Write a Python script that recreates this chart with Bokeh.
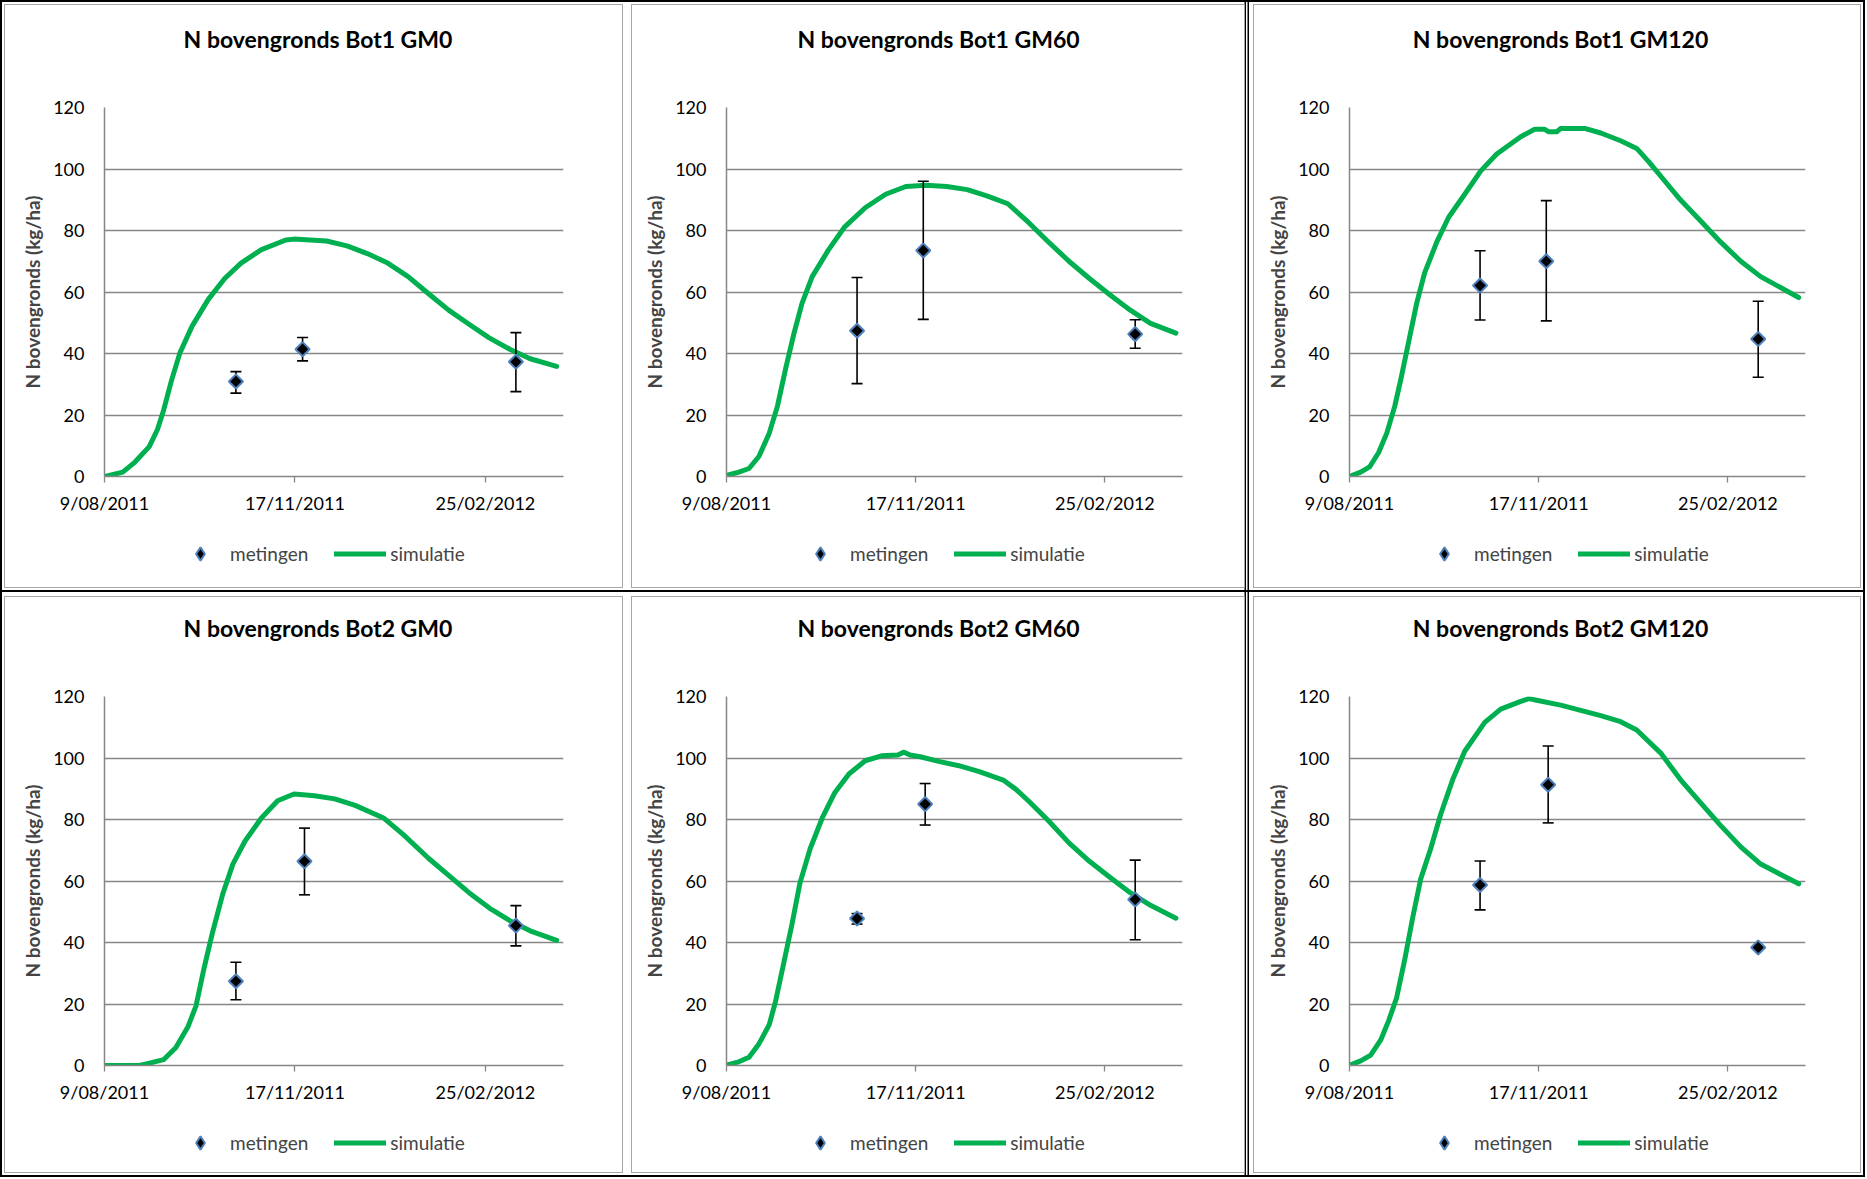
import pandas as pd
from bokeh.plotting import figure
from bokeh.layouts import column, row
from bokeh.models import (FixedTicker, Range1d, Legend, LegendItem, ColumnDataSource, Label)
from bokeh.embed import file_html
from bokeh.resources import INLINE

# ---------------- data ----------------
START_DATE = "2011-08-09"
x_tick_days = [0, 100, 200]
x_tick_labels = ["9/08/2011", "17/11/2011", "25/02/2012"]
y_ticks = [0, 20, 40, 60, 80, 100, 120]

titles = ["N bovengronds Bot1 GM0", "N bovengronds Bot1 GM60", "N bovengronds Bot1 GM120",
          "N bovengronds Bot2 GM0", "N bovengronds Bot2 GM60", "N bovengronds Bot2 GM120"]
y_label = "N bovengronds (kg/ha)"
series_names = ["metingen", "simulatie"]

meas_dates_bot1 = ["2011-10-17", "2011-11-21", "2012-03-12"]
meas_dates_bot2 = ["2011-10-17", "2011-11-22", "2012-03-12"]

# simulation: days after 9/08/2011 and N (kg/ha)
b1g0_sim_day = [0.3, 9.6, 16, 23.5, 27.8, 31, 35.3, 39.6, 46, 54.5, 63.1, 71.7, 82.4, 95.2, 99.5,
                116.6, 127.3, 138, 148.7, 159.4, 170, 180.7, 191.4, 202, 212.8, 223.5, 237.4]
b1g0_sim_val = [0, 1.4, 4.7, 9.7, 15.3, 21.5, 31.5, 40.2, 48.9, 57.6, 64.4, 69.4, 73.8, 76.9, 77.2,
                76.6, 75.0, 72.5, 69.4, 65.0, 59.5, 54.1, 49.5, 45.1, 41.4, 38.3, 35.8]
b1g0_meas = [30.9, 41.4, 37.3]
b1g0_lo = [27.1, 37.6, 27.6]
b1g0_hi = [34.1, 45.2, 46.8]

b1g60_sim_day = [0.4, 6.5, 11.9, 17.2, 22.6, 26.9, 31.3, 35.6, 39.9, 45.3, 53.9, 62.5, 73.3, 84.1,
                 94.8, 105.6, 116.4, 127.2, 138, 148.7, 159.5, 170.3, 181, 191.8, 202.6, 213.4, 224.1, 237.5]
b1g60_sim_val = [0.4, 1.4, 2.6, 6.6, 14.1, 22.8, 35.2, 46.4, 56.3, 65.0, 73.7, 81.2, 87.4, 91.8,
                 94.3, 94.7, 94.3, 93.3, 91.2, 88.7, 82.7, 76.2, 70.0, 64.4, 59.1, 54.1, 49.8, 46.6]
b1g60_meas = [47.4, 73.5, 46.3]
b1g60_lo = [30.2, 51.1, 41.7]
b1g60_hi = [64.7, 96.0, 51.0]

b1g120_sim_day = [0, 5.9, 10.6, 15.4, 19.7, 23.9, 27.1, 31.3, 35.5, 39.7, 46.1, 52.4, 60.9, 69.3,
                  77.8, 90.5, 97.9, 103.2, 105.3, 109.5, 111.6, 124.3, 132.8, 143.3, 151.8, 158.1,
                  166.6, 175, 185.6, 196.2, 206.8, 217.3, 237.4]
b1g120_sim_val = [0, 1.4, 3.1, 7.8, 14.1, 22.8, 31.5, 43.9, 56.3, 66.2, 76.2, 84.3, 91.8, 99.3,
                  104.9, 110.5, 112.9, 112.9, 112.1, 112.1, 113.2, 113.2, 111.7, 109.2, 106.7, 102.4,
                  96.1, 89.9, 83.1, 76.2, 70.0, 65.0, 58.2]
b1g120_meas = [62.1, 70.0, 44.7]
b1g120_lo = [50.9, 50.6, 32.3]
b1g120_hi = [73.4, 89.7, 57.0]

b2g0_sim_day = [0, 18.2, 22.5, 31, 37.4, 43.9, 48.1, 52.4, 56.7, 62, 67.4, 73.8, 82.4, 90.9, 99.5,
                110.2, 120.9, 131.6, 146.5, 157.2, 170.1, 180.7, 191.4, 202.1, 212.8, 223.5, 237.4]
b2g0_sim_val = [0, 0, 0.6, 1.9, 5.8, 12.7, 19.5, 32, 43.2, 55.6, 65.5, 73, 80.5, 86.1, 88.3,
                87.7, 86.7, 84.6, 80.5, 74.9, 67.4, 61.8, 56.2, 51.2, 47.1, 43.8, 40.7]
b2g0_meas = [27.4, 66.4, 45.5]
b2g0_lo = [21.4, 55.5, 38.9]
b2g0_hi = [33.6, 77.2, 52.0]

b2g60_sim_day = [0.4, 6.5, 11.9, 17.2, 22.6, 25.9, 30.2, 34.5, 38.8, 44.2, 50.6, 57.1, 64.7, 73.3,
                 81.9, 90.5, 93.8, 97, 102.4, 112.1, 122.8, 133.6, 146.6, 153, 159.5, 170.3, 181,
                 191.8, 202.6, 213.4, 224.1, 237.5]
b2g60_sim_val = [0.2, 1.2, 2.7, 7.1, 13.3, 20.8, 33.2, 45.6, 59.3, 70.5, 80.5, 88.6, 94.8, 99.1,
                 100.7, 101.0, 101.9, 101.0, 100.4, 98.9, 97.5, 95.6, 92.7, 89.8, 86.1, 79.5, 72.4,
                 66.4, 61.2, 56.2, 52.1, 47.9]
b2g60_meas = [47.8, 85.0, 54.0]
b2g60_lo = [46.0, 78.2, 40.9]
b2g60_hi = [49.4, 91.7, 66.8]

b2g120_sim_day = [0.6, 5.9, 11.2, 16.5, 20.7, 24.9, 29.2, 33.4, 37.6, 42.9, 48.2, 54.5, 60.9, 71.5,
                  79.9, 90.5, 94.7, 98.9, 111.6, 122.2, 132.8, 143.3, 151.8, 164.5, 175, 185.6,
                  196.2, 206.8, 217.3, 237.4]
b2g120_sim_val = [0.2, 1.5, 3.4, 8.3, 14.6, 22, 34.5, 48.1, 60.6, 70.5, 81.7, 92.9, 102.2, 111.6,
                  115.9, 118.4, 119.3, 118.8, 117.2, 115.5, 113.8, 111.8, 109.1, 101.6, 92.9, 85.4,
                  78, 71.1, 65.5, 59.1]
b2g120_meas = [58.7, 91.3, 38.4]
b2g120_lo = [50.6, 78.9, 38.0]
b2g120_hi = [66.5, 103.9, 38.8]

# ---------------- styling ----------------
FONT = "Lato"
GREEN = "#00B050"
GRID = "#868686"
MARK_LINE = "#4F81BD"
X_END = 241

col_w = [627, 622, 616]
col_left = [104, 99, 100]
col_fw = [459, 456, 456]
row_h = [592, 585]
row_top = [107, 104]
FH = 369
TITLE_H = 70
title_cx = [213.5, 212, 211]      # title centre, px from frame left
title_cy = [31.7, 34.2]           # title centre, px from strip bottom
MAIN_BOTTOM = 55
LEG_GLYPH_H = 33
leg_x = [70, 68, 69]
leg_vy = [22.5, 18]

start = pd.Timestamp(START_DATE)


def to_days(dates):
    return [(pd.Timestamp(d) - start).days for d in dates]


def edges(r, c):
    sh = []
    if r == 0:
        sh.append("inset 0 2px 0 0 #000")
    sh.append("inset 0 -2px 0 0 #000")
    if c == 0:
        sh.append("inset 2px 0 0 0 #000")
    if c == 1:
        sh += ["inset -1.5px 0 0 0 #000", "inset -3px 0 0 0 #fff", "inset -4.5px 0 0 0 #000"]
    if c == 2:
        sh.append("inset -2px 0 0 0 #000")
    return {"box-shadow": ", ".join(sh),
            "outline": "1.5px solid #A6A6A6", "outline-offset": "-5px"}


def add_series(p, src, sim_day, sim_val, marker="square", angle=0.7853981634, size=10):
    ln = p.line(sim_day, sim_val, line_color=GREEN, line_width=5, line_join="round", line_cap="round")
    p.segment(x0="x", y0="lo", x1="x", y1="hi", source=src, line_color="black", line_width=1.6)
    p.scatter(x="x", y="lo", source=src, marker="dash", size=11, line_color="black", line_width=1.6)
    p.scatter(x="x", y="hi", source=src, marker="dash", size=11, line_color="black", line_width=1.6)
    sc = p.scatter(x="x", y="y", source=src, marker=marker, angle=angle, size=size,
                   fill_color="black", line_color=MARK_LINE, line_width=2)
    return sc, ln


def panel(idx, sim_day, sim_val, mdates, meas, lo, hi):
    r, c = divmod(idx, 3)
    right = col_w[c] - col_left[c] - col_fw[c]

    # title strip
    t = figure(frame_width=col_fw[c], frame_height=TITLE_H,
               min_border_left=col_left[c], min_border_right=right,
               min_border_top=0, min_border_bottom=0,
               x_range=Range1d(0, col_fw[c]), y_range=Range1d(0, TITLE_H),
               x_axis_location=None, y_axis_location=None,
               output_backend="svg", toolbar_location=None,
               background_fill_color=None, border_fill_color=None, outline_line_color=None)
    t.grid.visible = False
    t.add_layout(Label(x=title_cx[c], y=title_cy[r], text=titles[idx],
                       text_align="center", text_baseline="middle",
                       text_font=FONT, text_font_size="23px", text_font_style="bold",
                       text_color="black"))

    # main chart
    p = figure(frame_width=col_fw[c], frame_height=FH,
               min_border_left=col_left[c], min_border_right=right,
               min_border_top=row_top[r] - TITLE_H, min_border_bottom=MAIN_BOTTOM,
               x_range=Range1d(0, X_END), y_range=Range1d(0, 120),
               output_backend="svg", toolbar_location=None,
               background_fill_color="white", border_fill_color=None,
               outline_line_color=None)
    xa = p.below[0]
    ya = p.left[0]

    src = ColumnDataSource(dict(x=to_days(mdates), y=meas, lo=lo, hi=hi))
    add_series(p, src, sim_day, sim_val)

    xa.ticker = FixedTicker(ticks=x_tick_days)
    xa.major_label_overrides = {d: l for d, l in zip(x_tick_days, x_tick_labels)}
    xa.minor_tick_line_color = None
    xa.major_tick_in = 0
    xa.major_tick_out = 6
    xa.major_tick_line_color = GRID
    xa.major_tick_line_width = 1.3
    xa.axis_line_color = GRID
    xa.axis_line_width = 1.5
    xa.major_label_standoff = 9
    ya.ticker = FixedTicker(ticks=y_ticks)
    ya.minor_tick_line_color = None
    ya.major_tick_line_color = None
    ya.major_tick_in = 0
    ya.major_tick_out = 0
    ya.axis_line_color = GRID
    ya.axis_line_width = 1.5
    ya.major_label_standoff = 20
    ya.axis_label = y_label
    ya.axis_label_text_font = FONT
    ya.axis_label_text_font_style = "bold"
    ya.axis_label_text_font_size = "19px"
    ya.axis_label_standoff = 6
    for ax in (xa, ya):
        ax.major_label_text_font = FONT
        ax.major_label_text_font_size = "18px"
        ax.major_label_text_color = "black"
    p.xgrid.grid_line_color = None
    p.ygrid.grid_line_color = GRID
    p.ygrid.grid_line_width = 1.3

    # legend strip (its own copy of the series lies outside its ranges)
    leg_h = row_h[r] - row_top[r] - FH - MAIN_BOTTOM
    q = figure(width=col_w[c], height=leg_h, min_border=0,
               x_range=Range1d(-20, -19), y_range=Range1d(-20, -19),
               output_backend="svg", toolbar_location=None,
               background_fill_color=None, border_fill_color=None, outline_line_color=None)
    q.axis.visible = False
    q.grid.visible = False
    lsrc = ColumnDataSource(dict(x=to_days(mdates), y=meas, lo=lo, hi=hi))
    lsc, lln = add_series(q, lsrc, sim_day, sim_val, marker="diamond", angle=0, size=14)
    leg = Legend(items=[LegendItem(label=series_names[0], renderers=[lsc]),
                        LegendItem(label=series_names[1], renderers=[lln])],
                 location=(leg_x[c], leg_vy[r]), orientation="horizontal",
                 glyph_width=52, glyph_height=LEG_GLYPH_H, label_height=20, label_standoff=4,
                 spacing=26, padding=0, margin=0, border_line_color=None,
                 background_fill_alpha=0, label_text_font=FONT, label_text_font_size="19px")
    q.add_layout(leg, "center")

    return column(t, p, q, styles=edges(r, c))


panels = [
    panel(0, b1g0_sim_day, b1g0_sim_val, meas_dates_bot1, b1g0_meas, b1g0_lo, b1g0_hi),
    panel(1, b1g60_sim_day, b1g60_sim_val, meas_dates_bot1, b1g60_meas, b1g60_lo, b1g60_hi),
    panel(2, b1g120_sim_day, b1g120_sim_val, meas_dates_bot1, b1g120_meas, b1g120_lo, b1g120_hi),
    panel(3, b2g0_sim_day, b2g0_sim_val, meas_dates_bot2, b2g0_meas, b2g0_lo, b2g0_hi),
    panel(4, b2g60_sim_day, b2g60_sim_val, meas_dates_bot2, b2g60_meas, b2g60_lo, b2g60_hi),
    panel(5, b2g120_sim_day, b2g120_sim_val, meas_dates_bot2, b2g120_meas, b2g120_lo, b2g120_hi),
]

layout = column(row(*panels[:3]), row(*panels[3:]))
open("out.html", "w").write(file_html(layout, INLINE))
